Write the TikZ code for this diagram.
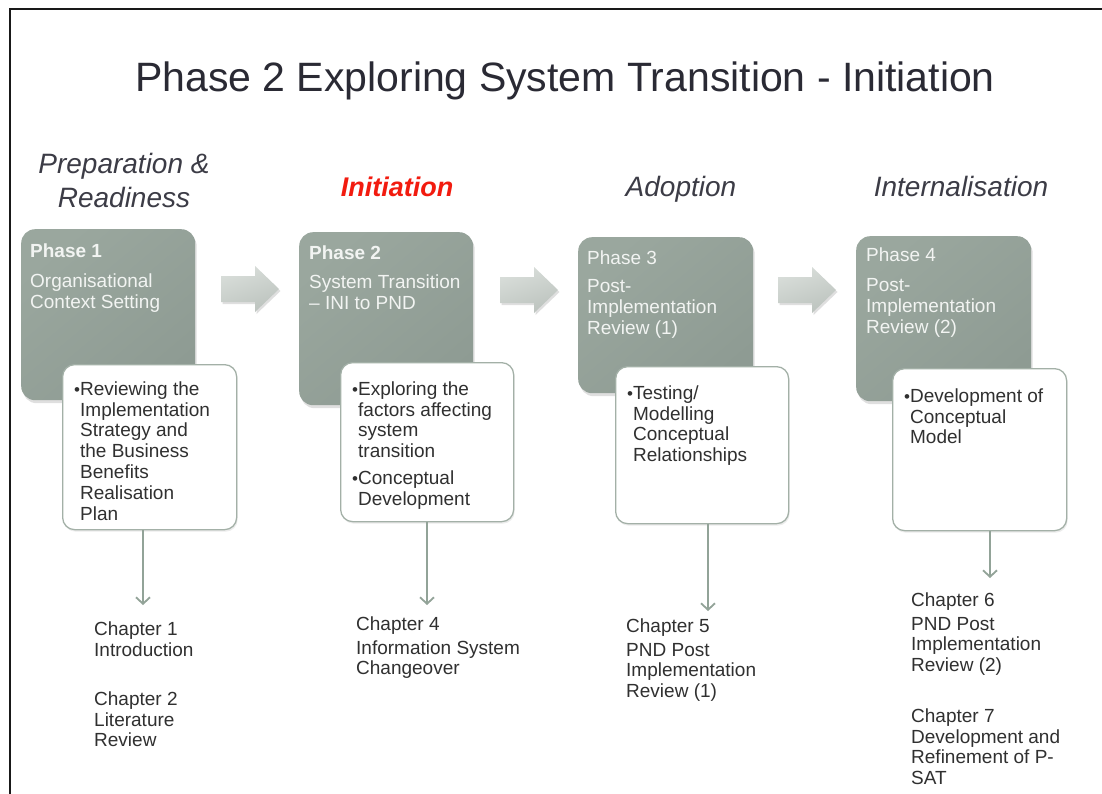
\documentclass[tikz,border=0pt]{standalone}
\usepackage{fontspec}
\setmainfont{Liberation Sans}
\usetikzlibrary{shadows,arrows.meta}
\definecolor{phtop}{HTML}{9AA79E}
\definecolor{phbot}{HTML}{8E9B93}
\definecolor{wbord}{HTML}{A3B0A7}
\definecolor{conn}{HTML}{92A398}
\definecolor{hdr}{HTML}{3C3C46}
\definecolor{ttl}{HTML}{2A2A34}
\definecolor{txt}{HTML}{303030}
\definecolor{phtxt}{HTML}{F2F4F2}
\definecolor{arrtop}{HTML}{D9DEDA}
\definecolor{arrbot}{HTML}{BCC3BE}
\definecolor{initred}{HTML}{F21B0F}
\newcommand\bodyfs{\fontsize{19pt}{20.8pt}\selectfont}
\newcommand\bul{{\fontsize{17pt}{17pt}\selectfont •}\hspace{1pt}}
\newcommand\mylines[1]{\begin{tabular}{@{}l@{}l@{}}#1\end{tabular}}
\newcommand\onecol[1]{\begin{tabular}{@{}l@{}}#1\end{tabular}}
\begin{document}
\begin{tikzpicture}[x=1pt,y=-1pt,
  phasebox/.style={rectangle, rounded corners=14pt, top color=phtop, bottom color=phbot, shading angle=40,
    drop shadow={opacity=0.25, shadow xshift=1.5pt, shadow yshift=-3pt}, anchor=north west, inner sep=0pt},
  whitebox/.style={rectangle, rounded corners=12pt, draw=wbord, line width=1.3pt, fill=white,
    drop shadow={opacity=0.15, shadow xshift=1pt, shadow yshift=-2pt}, anchor=north west, inner sep=0pt},
  phtext/.style={anchor=north west, inner sep=0pt, font=\bodyfs, text=phtxt},
  wtext/.style={anchor=north west, inner sep=0pt, font=\bodyfs, text=txt},
  chtext/.style={anchor=north west, inner sep=0pt, font=\bodyfs, text=txt},
  hdrtext/.style={anchor=base, inner sep=0pt, font=\fontsize{28pt}{34pt}\selectfont\itshape, text=hdr},
  blockarrow/.style={top color=arrtop, bottom color=arrbot, shading angle=20,
    drop shadow={opacity=0.25, shadow xshift=1.5pt, shadow yshift=-2pt}},
  downarr/.style={draw=conn, line width=1.8pt, -{Straight Barb[length=6.5pt,width=14pt]}},
  frameline/.style={draw=black!90, line width=2pt}
]
\useasboundingbox (0,0) rectangle (1102,794);
\fill[white] (0,0) rectangle (1102,794);
\draw[frameline] (10,794) -- (10,9) -- (1102,9);

% title
\node[anchor=base, inner sep=0pt, font=\fontsize{41pt}{48pt}\selectfont, text=ttl] (title) at (565,91.5)
  {Phase 2 Exploring System Transition - Initiation};

% stage headers
\node[hdrtext] (h1a) at (124,174) {Preparation \&};
\node[hdrtext] (h1b) at (124,208) {Readiness};
\node[hdrtext, text=initred, font=\fontsize{27pt}{34pt}\selectfont\bfseries\itshape] (h2) at (397,197) {Initiation};
\node[hdrtext] (h3) at (681,197) {Adoption};
\node[hdrtext] (h4) at (961,197) {Internalisation};

% block arrows
\path[blockarrow] (221,276) -- (255,276) -- (255,266) -- (279,289) -- (255,312) -- (255,302) -- (221,302) -- cycle;
\path[blockarrow] (500,277) -- (534,277) -- (534,267) -- (558,290) -- (534,313) -- (534,303) -- (500,303) -- cycle;
\path[blockarrow] (778,277) -- (812,277) -- (812,267) -- (836,290) -- (812,313) -- (812,303) -- (778,303) -- cycle;

% phase boxes
\node[phasebox, minimum width=174pt, minimum height=171pt] (p1) at (21,229) {};
\node[phasebox, minimum width=174pt, minimum height=173pt] (p2) at (299,232) {};
\node[phasebox, minimum width=175pt, minimum height=156pt] (p3) at (578,237) {};
\node[phasebox, minimum width=175pt, minimum height=165pt] (p4) at (856,236) {};

\node[phtext] (p1t) at (30,242.5) {\onecol{\textbf{Phase 1}\\[9.5pt] Organisational\\ Context Setting}};
\node[phtext] (p2t) at (309,244.5) {\onecol{\textbf{Phase 2}\\[8.5pt] System Transition\\ – INI to PND}};
\node[phtext] (p3t) at (587,249.5) {\onecol{Phase 3\\[7.5pt] Post-\\ Implementation\\ Review (1)}};
\node[phtext] (p4t) at (866,246.5) {\onecol{Phase 4\\[9.5pt] Post-\\ Implementation\\ Review (2)}};

% white boxes
\node[whitebox, minimum width=174pt, minimum height=165pt] (w1) at (62,364) {};
\node[whitebox, minimum width=173pt, minimum height=159pt] (w2) at (340,362) {};
\node[whitebox, minimum width=173pt, minimum height=157pt] (w3) at (615,366) {};
\node[whitebox, minimum width=174pt, minimum height=162pt] (w4) at (892,368) {};

\node[wtext] (w1t) at (74,380.5) {\mylines{\bul&Reviewing the\\ &Implementation\\ &Strategy and\\ &the Business\\ &Benefits\\ &Realisation\\ &Plan}};
\node[wtext] (w2t) at (352,380.5) {\mylines{\bul&Exploring the\\ &factors affecting\\ &system\\ &transition\\[6pt] \bul&Conceptual\\ &Development}};
\node[wtext] (w3t) at (627,384.5) {\mylines{\bul&Testing/\\ &Modelling\\ &Conceptual\\ &Relationships}};
\node[wtext] (w4t) at (904,387.5) {\mylines{\bul&Development of\\ &Conceptual\\ &Model}};

% chapter texts
\node[chtext] (c1) at (94,620.5) {\onecol{Chapter 1\\ Introduction}};
\node[chtext] (c2) at (94,690.5) {\onecol{Chapter 2\\ Literature\\ Review}};
\node[chtext] (c4) at (356,615.5) {\onecol{Chapter 4\\[3pt] Information System\\ Changeover}};
\node[chtext] (c5) at (626,617.5) {\onecol{Chapter 5\\[3pt] PND Post\\ Implementation\\ Review (1)}};
\node[chtext] (c6) at (911,591.5) {\onecol{Chapter 6\\[3pt] PND Post\\ Implementation\\ Review (2)}};
\node[chtext] (c7) at (911,707.5) {\onecol{Chapter 7\\ Development and\\ Refinement of P-\\ SAT}};

% connectors
\coordinate (e1) at (143,605);
\coordinate (e2) at (427,605);
\coordinate (e3) at (708,611);
\coordinate (e4) at (990,578);
\draw[downarr] (w1.south -| e1) -- (e1);
\draw[downarr] (w2.south -| e2) -- (e2);
\draw[downarr] (w3.south -| e3) -- (e3);
\draw[downarr] (w4.south -| e4) -- (e4);
\end{tikzpicture}
\end{document}
